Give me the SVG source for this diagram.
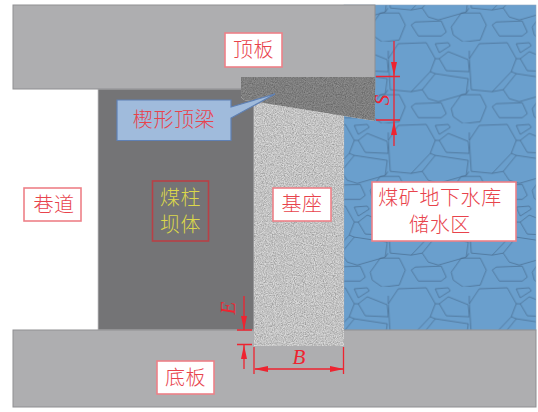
<svg xmlns="http://www.w3.org/2000/svg" width="538" height="412" viewBox="0 0 538 412">
<style>
.rock{fill:#aeaeb0;stroke:#8f8f92;stroke-width:1}
.dim{stroke:#ee2430;stroke-width:1.3;fill:none}
.head{fill:#ee2430}
.box{fill:#fff;stroke:#ee8088;stroke-width:1.6}
.lbl{font-family:"Noto Sans CJK SC","Noto Sans CJK JP",sans-serif;font-size:20px;font-weight:300;fill:#e8434c;text-anchor:middle;letter-spacing:.6px}
.sym{font-family:"Liberation Serif",serif;font-style:italic;font-size:21px;fill:#ee2430;text-anchor:middle}
.stone{fill:none;stroke:#3f5f80;stroke-width:.9;stroke-opacity:.65;stroke-linejoin:round}
</style>
<defs>
<pattern id="stones" patternUnits="userSpaceOnUse" x="388.300" y="41.700" width="81" height="81.700">
<rect width="81" height="81.700" fill="#6a9fcd"/>
<path class="stone" d="M0 17L10 2L38 1L47 17L42 30L23 50L2 48Z M47 2L60 1L62 4L51 11Z M51 17L60 10L80 18L81 30L58 29Z M34 48L47 32L80 37L78 52L50 60L40 57Z M23 65L27 62L53 61L58 72L53 76L30 76Z M63 67L73 53L92 53L98 65L92 80L75 82L65 75Z M-18 67L-8 53L11 53L17 65L11 80L-6 82L-16 75Z M0 17L0 9 M81 17L81 9 M47 17L51 17 M42 30L47 32 M23 50L34 48 M78 52L81 48"/>
</pattern>
<filter id="grain" x="0" y="0" width="100%" height="100%" color-interpolation-filters="sRGB">
<feTurbulence type="fractalNoise" baseFrequency="0.9" numOctaves="2" seed="4"/>
<feColorMatrix type="matrix" values="0.35 0.35 0 0 0.55 0.35 0.35 0 0 0.55 0.35 0.35 0 0 0.55 0 0 0 0 1"/>
<feComposite in2="SourceAlpha" operator="in" result="n"/>
<feBlend in="SourceGraphic" in2="n" mode="multiply"/>
</filter>
</defs>
<rect width="538" height="412" fill="#fff"/>
<g id="water"><rect x="344" y="5" width="192" height="325" fill="url(#stones)" stroke="#8aa5bf" stroke-width=".6"/></g>
<g id="pillar"><rect x="98" y="89" width="156" height="241" fill="#747476" stroke="#c8c8ca" stroke-width=".8"/></g>
<g id="roof"><rect class="rock" x="13" y="5" width="362" height="84"/></g>
<g id="floor"><rect class="rock" x="13" y="330" width="523" height="77"/></g>
<g id="base"><path d="M254 95H344V346H254Z" fill="#d8d8d8" filter="url(#grain)"/></g>
<g id="wedge"><path d="M241 77H375V121L244 100L241 97Z" fill="#8c8c8c" filter="url(#grain)"/></g>
<g id="connectors">
<g id="dim-S"><path class="dim" d="M394 41V146M376 76.500H400M376 120H400"/><path class="head" d="M394 76L391 62H397ZM394 121L391 135H397Z"/></g>
<g id="dim-E"><path class="dim" d="M244 296V330M237 330H252M237 344.500H252M244 345V369"/><path class="head" d="M244 330L241 316H247ZM244 345L241 359H247Z"/></g>
<g id="dim-B"><path class="dim" d="M254 347V374M343.500 347V374M255 369H343"/><path class="head" d="M254 369L268 366V372ZM344 369L330 366V372Z"/></g>
</g>
<g id="label-s"><text class="sym" transform="translate(389 100) rotate(-90)">S</text></g>
<g id="label-e"><text class="sym" transform="translate(235 308) rotate(-90)">E</text></g>
<g id="label-b"><text class="sym" x="299" y="364">B</text></g>
<g id="label-roof"><rect class="box" x="225" y="33" width="57" height="34"/><text class="lbl" x="253.500" y="57">顶板</text></g>
<g id="label-wedge"><path d="M117 100H231V107L275 94L231 118V140.500H117Z" fill="#a0bbdc" stroke="#5f80b4" stroke-width="1.200"/><text class="lbl" x="174" y="127">楔形顶梁</text></g>
<g id="label-tunnel"><rect class="box" x="24" y="188" width="57" height="33"/><text class="lbl" x="54" y="212">巷道</text></g>
<g id="label-pillar"><rect x="152.500" y="181" width="56" height="60" fill="none" stroke="#b84046" stroke-width="1.600"/><text class="lbl" style="fill:#dcd84a" x="180.500" y="205">煤柱</text><text class="lbl" style="fill:#dcd84a" x="180.500" y="232">坝体</text></g>
<g id="label-base"><rect class="box" x="273" y="188" width="58" height="33"/><text class="lbl" x="302" y="211">基座</text></g>
<g id="label-reservoir"><rect class="box" x="372" y="182" width="144" height="59"/><text class="lbl" x="440" y="205">煤矿地下水库</text><text class="lbl" x="440" y="232">储水区</text></g>
<g id="label-floor"><rect class="box" x="157" y="361" width="57" height="33"/><text class="lbl" x="185.500" y="385">底板</text></g>
</svg>
